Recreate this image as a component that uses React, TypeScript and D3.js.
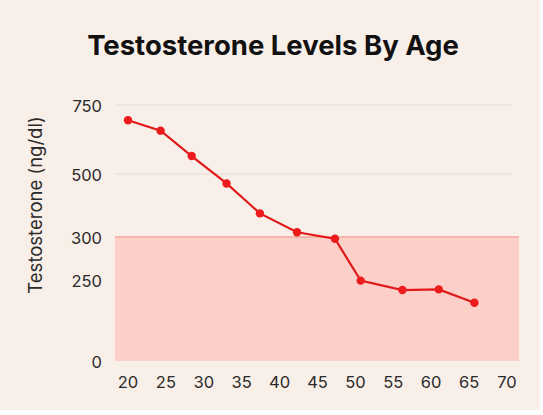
import React from "react";
import * as d3 from "d3";

const ages = [20, 24.3, 28.4, 33, 37.4, 42.3, 47.3, 50.7, 56.2, 61, 65.7];
const levels = [695, 657, 565, 470, 375, 315, 298, 248, 219, 221, 180];
const xTicks = [20, 25, 30, 35, 40, 45, 50, 55, 60, 65, 70];
const yTicks = [0, 250, 300, 500, 750];
const gridTicks = [500, 750];
const lowThreshold = 300;

const W = 543;
const H = 415;

export default function App() {
  const x = d3.scaleLinear().domain([20, 70]).range([128, 507]);
  const y = d3
    .scaleLinear()
    .domain([0, 250, 300, 500, 750])
    .range([361, 280, 237, 174, 105]);
  const pts = ages.map((a, i) => [x(a), y(levels[i])] as [number, number]);
  const line = d3.line()(pts) || "";
  const font = "Inter, 'Noto Sans', sans-serif";
  return (
    <svg
      width={W}
      height={H}
      style={{ position: "absolute", left: 0, top: 0, background: "#ffffff" }}
    >
      <rect x={0} y={0} width={540} height={410} fill="#f9efe9" />
      <text
        x={273}
        y={55}
        textAnchor="middle"
        fontFamily={font}
        fontWeight={700}
        fontSize={27.5}
        fill="#111"
      >
        Testosterone Levels By Age
      </text>
      {gridTicks.map((t) => (
        <line
          key={t}
          x1={115}
          x2={512}
          y1={y(t)}
          y2={y(t)}
          stroke="#ebe1db"
          strokeWidth={1.5}
        />
      ))}
      <rect
        x={115}
        y={y(lowThreshold)}
        width={519 - 115}
        height={y(0) - y(lowThreshold)}
        fill="#fcd0c8"
      />
      <line
        x1={115}
        x2={519}
        y1={y(lowThreshold)}
        y2={y(lowThreshold)}
        stroke="#f2a89b"
        strokeWidth={1.5}
      />
      {yTicks.map((t) => (
        <text
          key={t}
          x={102}
          y={y(t) + 2}
          textAnchor="end"
          dominantBaseline="middle"
          fontFamily={font}
          fontSize={16.5}
          fill="#2a2a2a"
        >
          {t}
        </text>
      ))}
      {xTicks.map((t) => (
        <text
          key={t}
          x={x(t)}
          y={383}
          textAnchor="middle"
          dominantBaseline="middle"
          fontFamily={font}
          fontSize={16.5}
          fill="#2a2a2a"
        >
          {t}
        </text>
      ))}
      <text
        transform="translate(37,205) rotate(-90)"
        textAnchor="middle"
        dominantBaseline="middle"
        fontFamily={font}
        fontSize={18.5}
        fill="#2a2a2a"
      >
        Testosterone (ng/dl)
      </text>
      <path d={line} fill="none" stroke="#e01a1a" strokeWidth={2.2} />
      {pts.map(([px, py], i) => (
        <circle key={i} cx={px} cy={py} r={4.2} fill="#ec1c1c" />
      ))}
    </svg>
  );
}
